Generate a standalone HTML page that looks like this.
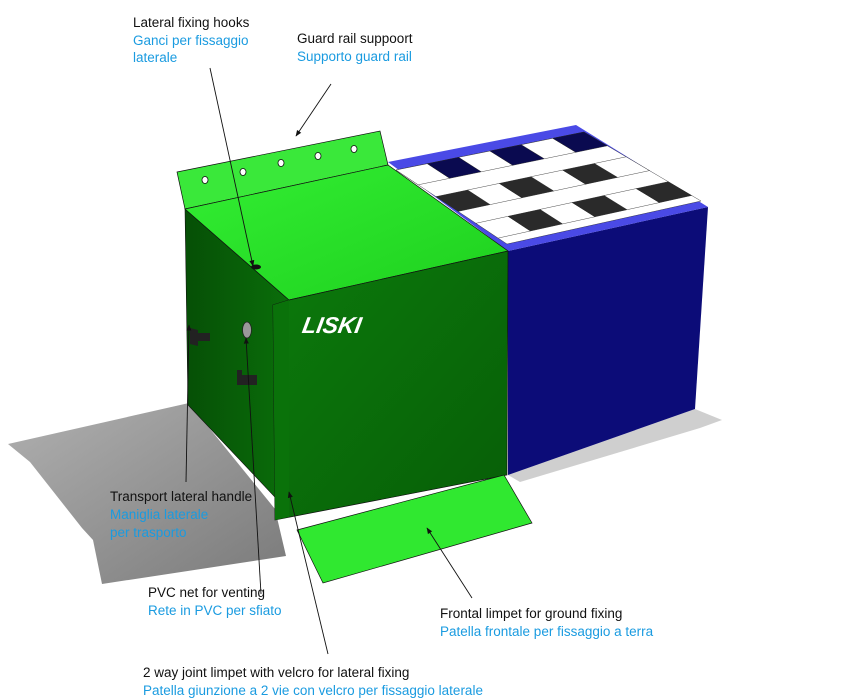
<!DOCTYPE html>
<html><head><meta charset="utf-8"><style>
body{margin:0;background:#fff;width:852px;height:700px;overflow:hidden;font-family:"Liberation Sans",sans-serif}
svg{position:absolute;left:0;top:0}
.t{font-size:13.5px;fill:#111}
.b{font-size:13.5px;fill:#1a9be0}
</style></head><body>
<svg id="s" width="852" height="700" viewBox="0 0 852 700">
<defs>
<linearGradient id="gf" x1="0" y1="0" x2="1" y2="1"><stop offset="0" stop-color="#0c7a0c"/><stop offset="1" stop-color="#075e07"/></linearGradient>
<linearGradient id="gs" x1="0" y1="0" x2="1" y2="0"><stop offset="0" stop-color="#064f06"/><stop offset="1" stop-color="#0a6e0a"/></linearGradient>
<linearGradient id="gt" x1="0" y1="0" x2="1" y2="1"><stop offset="0" stop-color="#33ee33"/><stop offset="1" stop-color="#1ed01e"/></linearGradient>
<linearGradient id="sh" x1="0" y1="0" x2="1" y2="1"><stop offset="0" stop-color="#b0b0b0"/><stop offset="1" stop-color="#7a7a7a"/></linearGradient>
<marker id="a" viewBox="0 0 10 10" refX="9" refY="5" markerWidth="7" markerHeight="7" orient="auto"><path d="M0,1 L10,5 L0,9 z" fill="#111"/></marker>
</defs>
<polygon points="8,444 189,403 275,509 286,556 102,584 93,540 82,528 30,462" fill="url(#sh)"/>
<polygon points="508,475 695,409 722,420 700,428 520,482" fill="#bbb" opacity="0.7"/>
<polygon points="508,251 708,207 695,409 508,475" fill="#0c0c78"/>
<polygon points="388,162 576,125 708,207 508,251" fill="#4a4ae6"/>
<g id="grid"></g>
<polygon points="185,209 289,300 289,512 188,405" fill="url(#gs)" stroke="#111" stroke-width="0.6"/>
<polygon points="177,172 380,131 388,165 185,209" fill="#3ae83a" stroke="#111" stroke-width="0.7"/>
<g fill="#fff" stroke="#111" stroke-width="0.8">
<ellipse cx="205" cy="180" rx="3" ry="3.5"/><ellipse cx="243" cy="172" rx="3" ry="3.5"/><ellipse cx="281" cy="163" rx="3" ry="3.5"/><ellipse cx="318" cy="156" rx="3" ry="3.5"/><ellipse cx="354" cy="149" rx="3" ry="3.5"/>
</g>
<polygon points="185,209 388,165 508,251 289,300" fill="url(#gt)" stroke="#111" stroke-width="0.7"/>
<polygon points="273,305 289,300 508,251 507,475 275,520" fill="url(#gf)" stroke="#111" stroke-width="0.7"/>
<polygon points="273,305 289,300 289,517 275,520" fill="#0a720a"/>
<polygon points="297,530 504,475 532,523 323,583" fill="#30e830" stroke="#111" stroke-width="0.7"/>
<path d="M190,328 l8,2 l0,16 l-8,-2z M194,333 h16 v8 h-16z" fill="#222"/>
<path d="M237,375 h20 v10 h-20z M237,370 l5,0 l0,15 l-5,0z" fill="#222"/>
<ellipse cx="247" cy="330" rx="4.5" ry="8" fill="#999" stroke="#222" stroke-width="0.8"/>
<ellipse cx="256" cy="267" rx="5" ry="2.5" fill="#111"/>
<text x="360" y="333" font-size="23" font-weight="bold" font-style="italic" fill="#fff" transform="skewX(-10)">LISKI</text>
<g stroke="#111" stroke-width="0.9" fill="none" marker-end="url(#a)">
<line x1="210" y1="68" x2="253" y2="266"/>
<line x1="331" y1="84" x2="296" y2="136"/>
<line x1="186" y1="482" x2="189" y2="325"/>
<line x1="261" y1="594" x2="246" y2="338"/>
<line x1="328" y1="654" x2="289" y2="492"/>
<line x1="472" y1="598" x2="427" y2="528"/>
</g>
<text class="t" x="133" y="27">Lateral fixing hooks</text>
<text class="b" x="133" y="45">Ganci per fissaggio</text>
<text class="b" x="133" y="62">laterale</text>
<text class="t" x="297" y="43">Guard rail suppoort</text>
<text class="b" x="297" y="61">Supporto guard rail</text>
<text class="t" x="110" y="501">Transport lateral handle</text>
<text class="b" x="110" y="519">Maniglia laterale</text>
<text class="b" x="110" y="537">per trasporto</text>
<text class="t" x="148" y="597">PVC net for venting</text>
<text class="b" x="148" y="615">Rete in PVC per sfiato</text>
<text class="t" x="440" y="618">Frontal limpet for ground fixing</text>
<text class="b" x="440" y="636">Patella frontale per fissaggio a terra</text>
<text class="t" x="143" y="677">2 way joint limpet with velcro for lateral fixing</text>
<text class="b" x="143" y="695">Patella giunzione a 2 vie con velcro per fissaggio laterale</text>
</svg>
<script>
(function(){
var A=[396,170],B=[584,132],C=[701,201],D=[507,244];
function P(u,v){var x=(1-u)*(1-v)*A[0]+u*(1-v)*B[0]+u*v*C[0]+(1-u)*v*D[0];var y=(1-u)*(1-v)*A[1]+u*(1-v)*B[1]+u*v*C[1]+(1-u)*v*D[1];return x.toFixed(1)+","+y.toFixed(1);}
function q(u0,u1,v0,v1,f){return '<polygon points="'+P(u0,v0)+' '+P(u1,v0)+' '+P(u1,v1)+' '+P(u0,v1)+'" fill="'+f+'" stroke="#222" stroke-width="0.4"/>';}
var s=q(0,1,0,1,"#fff");
var rows=[[0.0,0.2],[0.36,0.56],[0.72,0.92]];
for(var r=0;r<3;r++){for(var i=0;i<6;i++){var c=(i+r)%2==0?"#fff":(r==0?"#0a0a50":"#2a2a2a");s+=q(i/6,(i+1)/6,rows[r][0],rows[r][1],c);}}
document.getElementById("grid").innerHTML=s;
})();
</script>
</body></html>
